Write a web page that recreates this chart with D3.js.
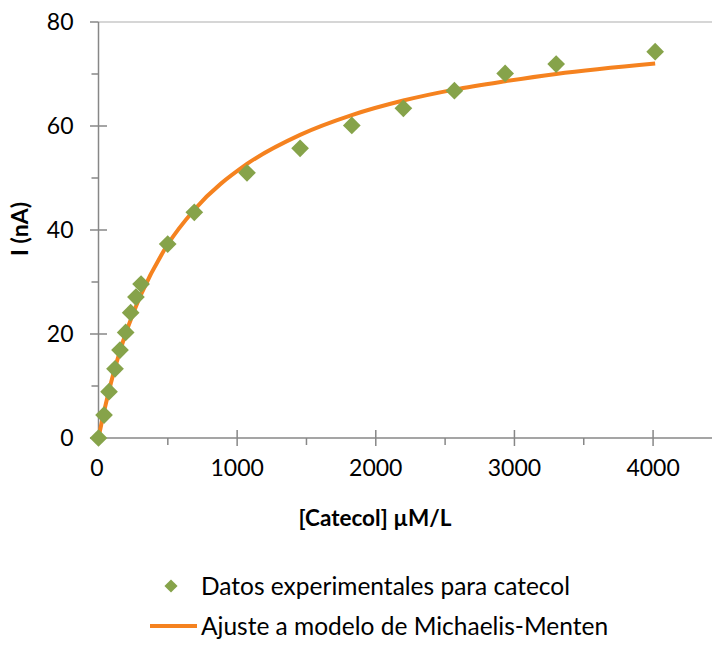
<!DOCTYPE html>
<html><head><meta charset="utf-8">
<script src="https://cdn.jsdelivr.net/npm/d3@7"></script>
<style>
html,body{margin:0;padding:0;background:#fff;}
svg{display:block;font-family:Lato,"Noto Sans",sans-serif;}
</style></head>
<body>
<svg id="chart" width="712" height="648"></svg>
<script>
// Data
const concentrations = [0, 40, 76, 119, 155, 196, 232, 270, 307, 499, 691, 1071, 1454, 1827, 2199, 2567, 2933, 3301, 4015];
const currents = [0, 4.4, 8.9, 13.3, 16.9, 20.3, 24.1, 27.1, 29.6, 37.3, 43.4, 51.0, 55.7, 60.1, 63.4, 66.8, 70.1, 71.9, 74.3];
const fitCurrents = [0, 5.1, 9.1, 13.5, 16.7, 20.1, 22.7, 25.3, 27.6, 37.2, 43.9, 52.7, 58.3, 62.1, 64.9, 67.0, 68.6, 70.0, 72.0];
const xTicks = [0, 1000, 2000, 3000, 4000];
const xMinorTicks = [500, 1500, 2500, 3500];
const yTicks = [0, 20, 40, 60, 80];
const yMinorTicks = [10, 30, 50, 70];
const xTitle = "[Catecol] µM/L";
const yTitle = "I (nA)";
const legendLabels = ["Datos experimentales para catecol", "Ajuste a modelo de Michaelis-Menten"];

const green = "#86A34A", orange = "#F5821F", axisGrey = "#878787";

const svg = d3.select("#chart");
const x = d3.scaleLinear().domain([0, 4500]).range([98.5, 722.4]);
const y = d3.scaleLinear().domain([0, 80]).range([438, 22]);

// top border gridline
svg.append("line").attr("x1", x(0)).attr("x2", 712).attr("y1", y(80)).attr("y2", y(80))
  .attr("stroke", "#C8C8C8").attr("stroke-width", 1.5);

// X axis
const xAxisG = svg.append("g").attr("transform", `translate(0,${y(0)})`);
xAxisG.append("line").attr("x1", x(0)).attr("x2", 712).attr("stroke", axisGrey).attr("stroke-width", 1.5);
xAxisG.selectAll(".xmaj").data(xTicks.filter(d => d > 0)).join("line")
  .attr("x1", d => x(d)).attr("x2", d => x(d)).attr("y1", -8).attr("y2", 8)
  .attr("stroke", axisGrey).attr("stroke-width", 1.5);
xAxisG.selectAll(".xmin").data(xMinorTicks).join("line")
  .attr("x1", d => x(d)).attr("x2", d => x(d)).attr("y1", 0).attr("y2", 7)
  .attr("stroke", axisGrey).attr("stroke-width", 1.5);
xAxisG.selectAll(".xlab").data(xTicks).join("text")
  .attr("x", d => x(d) - (d === 0 ? 1.5 : 0)).attr("y", 37.5)
  .attr("text-anchor", "middle").attr("font-size", 23).attr("fill", "#000")
  .text(d => d);

// Y axis
const yAxisG = svg.append("g").attr("transform", `translate(${x(0)},0)`);
yAxisG.append("line").attr("y1", y(0)).attr("y2", y(80)).attr("stroke", axisGrey).attr("stroke-width", 1.5);
yAxisG.selectAll(".ymaj").data(yTicks).join("line")
  .attr("y1", d => y(d)).attr("y2", d => y(d)).attr("x1", -8.5).attr("x2", d => d === 0 || d === 80 ? 0 : 8.5)
  .attr("stroke", axisGrey).attr("stroke-width", 1.5);
yAxisG.selectAll(".ymin").data(yMinorTicks).join("line")
  .attr("y1", d => y(d)).attr("y2", d => y(d)).attr("x1", -7).attr("x2", 0)
  .attr("stroke", axisGrey).attr("stroke-width", 1.5);
yAxisG.selectAll(".ylab").data(yTicks).join("text")
  .attr("x", -25).attr("y", d => y(d)).attr("dy", "0.36em")
  .attr("text-anchor", "end").attr("font-size", 23).attr("fill", "#000")
  .text(d => d);

// Axis titles
svg.append("text").attr("x", 375).attr("y", 526).attr("text-anchor", "middle")
  .attr("font-size", 22.5).attr("font-weight", "bold").text(xTitle);
svg.append("text").attr("transform", "translate(28,229) rotate(-90)").attr("text-anchor", "middle")
  .attr("font-size", 23).attr("font-weight", "bold").text(yTitle);

// Fit curve
const fitData = concentrations.map((c, i) => [c, fitCurrents[i]]);
const line = d3.line().x(d => x(d[0])).y(d => y(d[1])).curve(d3.curveMonotoneX);
svg.append("path").datum(fitData).attr("d", line)
  .attr("fill", "none").attr("stroke", orange).attr("stroke-width", 4);

// Data points
const diamond = d3.symbol().type(d3.symbolDiamond2).size(200);
svg.selectAll(".pt").data(concentrations.map((c, i) => [c, currents[i]])).join("path")
  .attr("d", diamond).attr("transform", d => `translate(${x(d[0])},${y(d[1])})`)
  .attr("fill", green);

// Legend
const lg = svg.append("g");
lg.append("path").attr("d", d3.symbol().type(d3.symbolDiamond2).size(110)())
  .attr("transform", "translate(171,586)").attr("fill", green);
lg.append("text").attr("x", 201).attr("y", 586).attr("dy", "0.36em")
  .attr("font-size", 24.5).text(legendLabels[0]);
lg.append("line").attr("x1", 150).attr("x2", 197).attr("y1", 626).attr("y2", 626)
  .attr("stroke", orange).attr("stroke-width", 4);
lg.append("text").attr("x", 201).attr("y", 626).attr("dy", "0.36em")
  .attr("font-size", 24.5).text(legendLabels[1]);
</script>
</body></html>
